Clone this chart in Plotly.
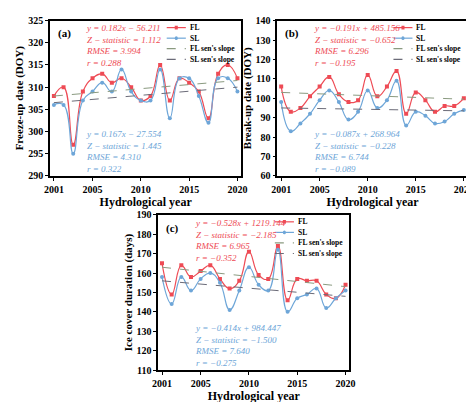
import plotly.graph_objects as go

years = list(range(2001, 2021))

# (a) freeze-up date
fu_fl = [308, 310, 297, 309, 312, 313, 311, 312, 310, 307, 308, 315, 307, 312, 311, 309, 303, 313, 315, 312]
fu_sl = [306, 306, 295, 307, 309, 311, 309, 314, 309, 307, 307, 314, 303, 312, 312, 308, 302, 312, 312, 309]
fu_sen_fl = [308.0, 311.5]
fu_sen_sl = [306.5, 310.0]

# (b) break-up date
bu_fl = [106, 93, 95, 101, 106, 111, 102, 98, 99, 112, 101, 106, 114, 92, 103, 99, 93, 96, 96, 100]
bu_sl = [98, 83, 87, 92, 99, 104, 98, 89, 93, 104, 95, 99, 109, 86, 93, 91, 87, 88, 92, 94]
bu_sen_fl = [103.0, 99.5]
bu_sen_sl = [95.0, 93.5]

# (c) ice cover duration
ic_fl = [165, 149, 164, 158, 161, 164, 157, 152, 156, 171, 159, 157, 174, 146, 157, 156, 156, 149, 147, 154]
ic_sl = [158, 144, 158, 151, 157, 160, 155, 141, 151, 163, 154, 151, 172, 140, 147, 149, 152, 142, 147, 151]
ic_sen_fl = [163.0, 153.0]
ic_sen_sl = [156.0, 148.0]

fl_stats = [
    ["y = 0.182x \u2212 56.211", "Z \u2212 statistic = 1.112", "RMSE = 3.994", "r = 0.288"],
    ["y = \u22120.191x + 485.156", "Z \u2212 statistic = \u22120.652", "RMSE = 6.296", "r = \u22120.195"],
    ["y = \u22120.528x + 1219.144", "Z \u2212 statistic = \u22122.185", "RMSE = 6.965", "r = \u22120.352"],
]
sl_stats = [
    ["y = 0.167x \u2212 27.554", "Z \u2212 statistic = 1.445", "RMSE = 4.310", "r = 0.322"],
    ["y = \u22120.087x + 268.964", "Z \u2212 statistic = \u22120.228", "RMSE = 6.744", "r = \u22120.089"],
    ["y = \u22120.414x + 984.447", "Z \u2212 statistic = \u22121.500", "RMSE = 7.640", "r = \u22120.275"],
]
legend_names = ["FL", "SL", "FL sen's slope", "SL sen's slope"]

RED = "#ee4b55"
BLUE = "#6ea6d8"
GREEN = "#8a9a80"
GRAY = "#6b6b78"
FONT = "Liberation Serif"

panels = [
    (fu_fl, fu_sl, fu_sen_fl, fu_sen_sl, "Freeze-up date (DOY)", [290, 325], 5, "(a)",
     [0.078, 0.492], [0.585, 0.983]),
    (bu_fl, bu_sl, bu_sen_fl, bu_sen_sl, "Break-up date (DOY)", [60, 140], 10, "(b)",
     [0.570, 0.982], [0.585, 0.983]),
    (ic_fl, ic_sl, ic_sen_fl, ic_sen_sl, "Ice cover duration (days)", [110, 190], 10, "(c)",
     [0.312, 0.726], [0.087, 0.485]),
]

fig = go.Figure()
annotations = []
shapes = []
for i, (fl, sl, sfl, ssl, ytitle, yr, dt, tag, xd, yd) in enumerate(panels):
    n = "" if i == 0 else str(i + 1)
    xa, ya = "x" + n, "y" + n
    ends = [years[0], years[-1]]
    fig.add_trace(go.Scatter(x=years, y=fl, name="FL", mode="lines+markers",
                             line=dict(color=RED, width=1.2, shape="spline", smoothing=1.3),
                             marker=dict(symbol="square", size=4, color=RED), xaxis=xa, yaxis=ya))
    fig.add_trace(go.Scatter(x=years, y=sl, name="SL", mode="lines+markers",
                             line=dict(color=BLUE, width=1.2, shape="spline", smoothing=1.3),
                             marker=dict(symbol="circle", size=4, color=BLUE), xaxis=xa, yaxis=ya))
    fig.add_trace(go.Scatter(x=ends, y=sfl, name="FL sen's slope", mode="lines",
                             line=dict(color=GREEN, width=1, dash="dash"), xaxis=xa, yaxis=ya))
    fig.add_trace(go.Scatter(x=ends, y=ssl, name="SL sen's slope", mode="lines",
                             line=dict(color=GRAY, width=1, dash="dash"), xaxis=xa, yaxis=ya))

    axis_common = dict(showline=True, linecolor="black", linewidth=1.5, mirror=True, ticks="outside",
                       ticklen=3, tickcolor="black", showgrid=False, zeroline=False,
                       tickfont=dict(family=FONT, size=10, color="black", weight="bold"))
    fig.update_layout({
        "xaxis" + n: dict(domain=xd, anchor=ya, range=[2000.6, 2020.4], tickvals=[2001, 2005, 2010, 2015, 2020],
                          title=dict(text="Hydrological year", standoff=4,
                                     font=dict(family=FONT, size=12, color="black", weight="bold")),
                          **axis_common),
        "yaxis" + n: dict(domain=yd, anchor=xa, range=yr, dtick=dt,
                          title=dict(text=ytitle, standoff=2,
                                     font=dict(family=FONT, size=11, color="black", weight="bold")),
                          **axis_common),
    })

    # hand-made compact legend
    xr, yrf = xa + " domain", ya + " domain"
    styles = [(RED, "solid", "square"), (BLUE, "solid", "circle"), (GREEN, "dash", None), (GRAY, "dash", None)]
    for k, (name, (col, dash, sym)) in enumerate(zip(legend_names, styles)):
        yy = 0.955 - k * 0.068
        shapes.append(dict(type="line", xref=xr, yref=yrf, x0=0.61, x1=0.71, y0=yy, y1=yy,
                           line=dict(color=col, width=1.2, dash=dash)))
        if sym == "square":
            shapes.append(dict(type="rect", xref=xr, yref=yrf, x0=0.652, x1=0.668, y0=yy - 0.012, y1=yy + 0.012,
                               fillcolor=col, line=dict(width=0)))
        elif sym == "circle":
            shapes.append(dict(type="circle", xref=xr, yref=yrf, x0=0.652, x1=0.668, y0=yy - 0.012,
                               y1=yy + 0.012, fillcolor=col, line=dict(width=0)))
        annotations.append(dict(xref=xr, yref=yrf, x=0.72, y=yy, text=name, showarrow=False,
                                xanchor="left", yanchor="middle",
                                font=dict(family=FONT, size=7.5, color="black", weight="bold")))

    annotations.append(dict(xref=xr, yref=yrf, x=0.03, y=0.97, text=tag,
                            showarrow=False, xanchor="left", yanchor="top",
                            font=dict(family=FONT, size=11, color="black", weight="bold")))
    annotations.append(dict(xref=xr, yref=yrf, x=0.18, y=0.995,
                            text="<br>".join(fl_stats[i]), showarrow=False, xanchor="left", yanchor="top",
                            align="left", font=dict(family=FONT, size=9, color=RED, style="italic")))
    annotations.append(dict(xref=xr, yref=yrf, x=0.18, y=0.0,
                            text="<br>".join(sl_stats[i]), showarrow=False, xanchor="left", yanchor="bottom",
                            align="left", font=dict(family=FONT, size=9, color=BLUE, style="italic")))

fig.update_layout(width=474, height=402, margin=dict(l=0, r=0, t=0, b=0), showlegend=False,
                  paper_bgcolor="white", plot_bgcolor="white", annotations=annotations, shapes=shapes,
                  font=dict(family=FONT))
fig.write_html("out.html")
